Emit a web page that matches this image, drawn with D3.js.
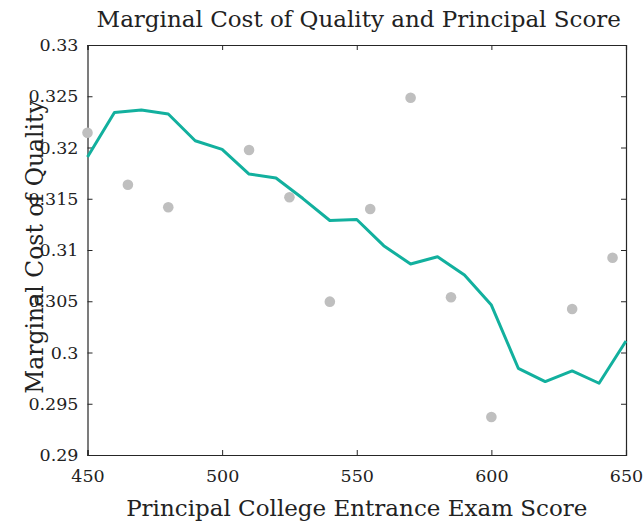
<!DOCTYPE html>
<html>
<head>
<meta charset="utf-8">
<script src="https://cdn.jsdelivr.net/npm/d3@7"></script>
<style>
body { margin: 0; background: #fff; }
text { font-family: "DejaVu Serif", "Liberation Serif", serif; fill: #222; }
</style>
</head>
<body>
<svg id="chart" width="643" height="527"></svg>
<script>
// fitted line (score, marginal cost)
var lineScores = [450, 460, 470, 480, 490, 500, 510, 520, 530, 540, 550,
                  560, 570, 580, 590, 600, 610, 620, 630, 640, 650]
var lineCost = [0.31907, 0.32341, 0.32366, 0.32327, 0.32066, 0.31982, 0.31741, 0.31702, 0.31502, 0.31288, 0.31298,
                0.31042, 0.30863, 0.30934, 0.30756, 0.30463, 0.29846, 0.29716, 0.29820, 0.29700, 0.30112]

// raw points
var dotScores = [450, 465, 480, 510, 525, 540, 555, 570, 585, 600, 630, 645]
var dotCost = [0.32144, 0.31637, 0.31417, 0.31976, 0.31514, 0.30496, 0.31400, 0.32486, 0.30539, 0.29371, 0.30424, 0.30925]

var xTicks = [450, 500, 550, 600, 650]
var yTicks = [0.29, 0.295, 0.3, 0.305, 0.31, 0.315, 0.32, 0.325, 0.33]

var svg = d3.select("#chart")

var mLeft = 87.5, mRight = 626, mTop = 45, mBottom = 455

var x = d3.scaleLinear()
    .domain([450, 650])
    .range([mLeft, mRight])

var y = d3.scaleLinear()
    .domain([0.29, 0.33])
    .range([mBottom, mTop])

var tickLen = 5

// axes (ticks inside, box on)
svg.append("g")
    .attr("transform", "translate(0," + mBottom + ")")
    .call(d3.axisBottom(x).tickValues(xTicks).tickSize(-tickLen).tickPadding(15).tickFormat(d3.format("d")))
svg.append("g")
    .attr("transform", "translate(0," + mTop + ")")
    .call(d3.axisTop(x).tickValues(xTicks).tickSize(-tickLen).tickFormat(""))
svg.append("g")
    .attr("transform", "translate(" + mLeft + ",0)")
    .call(d3.axisLeft(y).tickValues(yTicks).tickSize(-tickLen).tickPadding(9).tickFormat(d => String(+d.toFixed(3))))
svg.append("g")
    .attr("transform", "translate(" + mRight + ",0)")
    .call(d3.axisRight(y).tickValues(yTicks).tickSize(-tickLen).tickFormat(""))

svg.selectAll(".domain").attr("stroke", "#262626").attr("stroke-width", 1.2)
svg.selectAll(".tick line").attr("stroke", "#262626")
svg.selectAll(".tick text")
    .style("font-family", "DejaVu Serif, serif")
    .style("font-size", "17.5px")
    .attr("fill", "#262626")

// scatter
svg.append("g").selectAll("circle")
    .data(dotScores)
    .enter().append("circle")
    .attr("cx", (d, i) => x(d))
    .attr("cy", (d, i) => y(dotCost[i]))
    .attr("r", 5.3)
    .attr("fill", "#bfbfbf")

// line
var line = d3.line()
    .x((d, i) => x(d))
    .y((d, i) => y(lineCost[i]))

svg.append("path")
    .datum(lineScores)
    .attr("d", line)
    .attr("fill", "none")
    .attr("stroke", "#12b09e")
    .attr("stroke-width", 3)
    .attr("stroke-linejoin", "round")

// titles
svg.append("text")
    .attr("x", (mLeft + mRight) / 2 + 2)
    .attr("y", 27)
    .attr("text-anchor", "middle")
    .style("font-size", "23px")
    .text("Marginal Cost of Quality and Principal Score")

svg.append("text")
    .attr("x", (mLeft + mRight) / 2)
    .attr("y", 516)
    .attr("text-anchor", "middle")
    .style("font-size", "23px")
    .text("Principal College Entrance Exam Score")

svg.append("text")
    .attr("transform", "translate(43," + 247 + ") rotate(-90)")
    .attr("text-anchor", "middle")
    .style("font-size", "23.5px")
    .text("Marginal Cost of Quality")
</script>
</body>
</html>
